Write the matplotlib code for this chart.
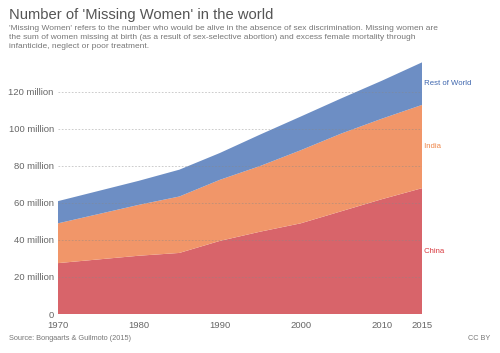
import matplotlib
matplotlib.use("Agg")
import matplotlib.pyplot as plt
import numpy as np

plt.rcParams['font.family'] = ['Liberation Sans', 'DejaVu Sans']

years = [1970, 1975, 1980, 1985, 1990, 1995, 2000, 2005, 2010, 2015]
# values in millions
china = [27.5, 29.5, 31.5, 33.0, 39.5, 44.5, 49.0, 55.5, 62.0, 68.0]
china_india = [49.0, 54.0, 59.0, 63.5, 72.5, 80.0, 88.5, 97.5, 105.5, 113.0]
total = [61.0, 66.5, 72.0, 78.0, 87.0, 97.0, 106.7, 116.5, 126.0, 136.0]

india = [a - b for a, b in zip(china_india, china)]
rest = [a - b for a, b in zip(total, china_india)]

names = ['China', 'India', 'Rest of World']
fill_colors = ['#d8646a', '#f19669', '#6d8ec4']
label_colors = ['#d8393f', '#ee8548', '#3e66ae']

fig = plt.figure(figsize=(5.0, 3.53), dpi=100)
ax = fig.add_axes([58 / 500, 1 - 314 / 353, (422 - 58) / 500, (314 - 62) / 353])

ax.stackplot(years, china, india, rest, colors=fill_colors, linewidth=0)

ax.set_xlim(1970, 2015)
ax.set_ylim(0, 136.2)
ax.set_xticks([1970, 1980, 1990, 2000, 2010, 2015])
yt = [0, 20, 40, 60, 80, 100, 120]
ax.set_yticks(yt)
ax.set_yticklabels(['0'] + ['%d million' % v for v in yt[1:]])
ax.tick_params(length=0, labelsize=6.8, labelcolor='#666666', pad=3)
ax.tick_params(axis='x', pad=5)
for s in ax.spines.values():
    s.set_visible(False)

for v in yt[1:]:
    ax.axhline(v, color='#888888', alpha=0.5, lw=0.6, ls=(0, (2, 2)), zorder=5)

# labels at the middle of each band at the last year
bottoms = [0, china[-1], china_india[-1]]
tops = [china[-1], china_india[-1], total[-1]]
for n, c, b, t in zip(names, label_colors, bottoms, tops):
    ax.text(1, (b + t) / 2, ' ' + n, transform=ax.get_yaxis_transform(),
            color=c, fontsize=5.6, va='center', ha='left', clip_on=False)

fig.text(9 / 500, 1 - 15.5 / 353, "Number of 'Missing Women' in the world",
         fontsize=10.6, color='#555555', va='center', ha='left')
fig.text(9 / 500, 1 - 25 / 353,
         "'Missing Women' refers to the number who would be alive in the absence of sex discrimination. Missing women are\n"
         "the sum of women missing at birth (as a result of sex-selective abortion) and excess female mortality through\n"
         "infanticide, neglect or poor treatment.",
         fontsize=6.0, color='#777777', va='top', ha='left', linespacing=1.4)
fig.text(9 / 500, 1 - 339 / 353, "Source: Bongaarts & Guilmoto (2015)",
         fontsize=5.3, color='#777777', va='center', ha='left')
fig.text(490 / 500, 1 - 339 / 353, "CC BY",
         fontsize=5.2, color='#777777', va='center', ha='right')

fig.savefig('out.png', dpi=100)
